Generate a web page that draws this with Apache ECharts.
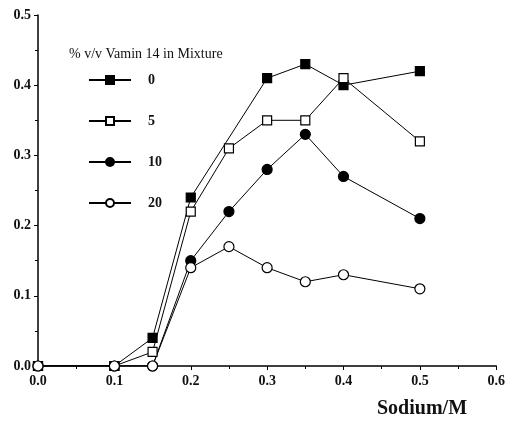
<!DOCTYPE html>
<html>
<head>
<meta charset="utf-8">
<script src="https://cdn.jsdelivr.net/npm/echarts@6/dist/echarts.min.js"></script>
<style>
	html, body { margin: 0; padding: 0; background: #fff; }
	#chart { width: 508px; height: 421px; }
</style>
</head>
<body>
<div id="chart"></div>
<script>
var sodium = [0, 0.1, 0.15, 0.2, 0.25, 0.3, 0.35, 0.4, 0.5];
var vamin0 = [0, 0, 0.04, 0.24, null, 0.41, 0.43, 0.40, 0.42];
var vamin5 = [0, 0, 0.02, 0.22, 0.31, 0.35, 0.35, 0.41, 0.32];
var vamin10 = [0, 0, 0, 0.15, 0.22, 0.28, 0.33, 0.27, 0.21];
var vamin20 = [0, 0, 0, 0.14, 0.17, 0.14, 0.12, 0.13, 0.11];
var seriesNames = ['0', '5', '10', '20'];

var serif = '"Liberation Serif", "DejaVu Serif", serif';

function pairs(vals) {
	return sodium.map(function(x, i) { return [x, vals[i]]; });
}

function makeSeries(name, vals, symbol, filled) {
	return {
		name: name,
		type: 'line',
		data: pairs(vals),
		connectNulls: true,
		symbol: symbol,
		symbolSize: symbol == 'rect' ? 9 : 10,
		lineStyle: { color: '#000', width: 1 },
		itemStyle: {
			color: filled ? '#000' : '#fff',
			borderColor: '#000',
			borderWidth: 1.2
		},
		emphasis: { disabled: true }
	};
}

var chart = echarts.init(document.getElementById('chart'));
var option = {
	animation: false,
	backgroundColor: '#fff',
	grid: { left: 38, right: 10, top: 15, bottom: 55 },
	title: {
		text: '% v/v Vamin 14 in Mixture',
		left: 64,
		top: 42,
		textStyle: { fontFamily: serif, fontSize: 14, fontWeight: 'normal', color: '#111' }
	},
	legend: {
		orient: 'vertical',
		left: 88,
		top: 73,
		padding: 0,
		itemWidth: 42,
		itemHeight: 10,
		itemGap: 27,
		data: seriesNames,
		textStyle: { fontFamily: serif, fontSize: 14, fontWeight: 'bold', color: '#111', padding: [0, 0, 0, 12] }
	},
	xAxis: {
		type: 'value',
		min: 0,
		max: 0.6,
		interval: 0.1,
		axisLine: { lineStyle: { color: '#000', width: 1.5 } },
		axisTick: { length: 4, lineStyle: { color: '#000' } },
		minorTick: { show: true, splitNumber: 2, length: 3, lineStyle: { color: '#000' } },
		splitLine: { show: false },
		axisLabel: {
			fontFamily: serif, fontSize: 14, fontWeight: 'bold', color: '#111', margin: 8,
			formatter: function(v) { return v.toFixed(1); }
		}
	},
	yAxis: {
		type: 'value',
		min: 0,
		max: 0.5,
		interval: 0.1,
		axisLine: { show: true, lineStyle: { color: '#000', width: 1.5 } },
		axisTick: { show: true, length: 4, lineStyle: { color: '#000' } },
		minorTick: { show: true, splitNumber: 2, length: 3, lineStyle: { color: '#000' } },
		splitLine: { show: false },
		axisLabel: {
			fontFamily: serif, fontSize: 14, fontWeight: 'bold', color: '#111', margin: 7,
			formatter: function(v) { return v.toFixed(1); }
		}
	},
	graphic: [{
		type: 'text',
		left: 377,
		top: 399,
		style: { text: 'Sodium/M', font: 'bold 20px ' + serif, fill: '#111' }
	}],
	series: [
		makeSeries(seriesNames[0], vamin0, 'rect', true),
		makeSeries(seriesNames[1], vamin5, 'rect', false),
		makeSeries(seriesNames[2], vamin10, 'circle', true),
		makeSeries(seriesNames[3], vamin20, 'circle', false)
	]
};
chart.setOption(option);
</script>
</body>
</html>
